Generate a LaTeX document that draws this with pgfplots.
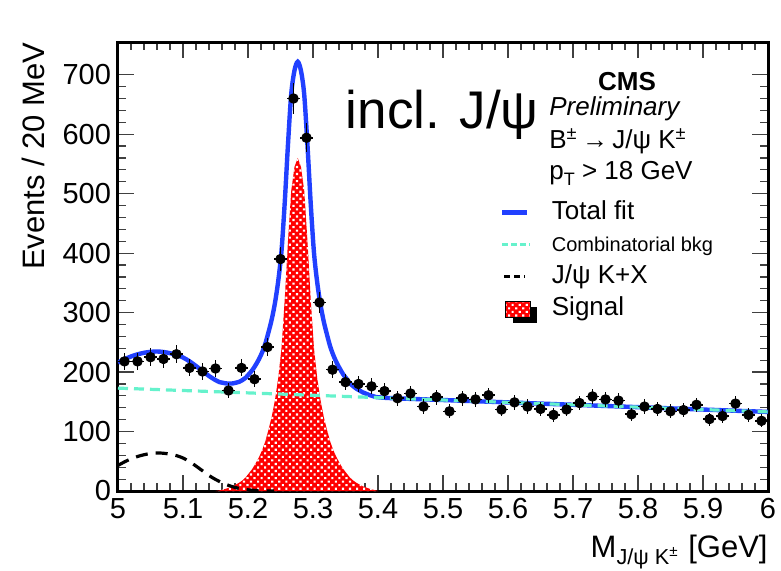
\documentclass[border=0pt]{standalone}
\usepackage{fontspec}
\setmainfont{Liberation Sans}
\usepackage{pgfplots}
\usepackage{pgfplotstable}
\pgfplotsset{compat=1.18}
\usetikzlibrary{patterns.meta}
\definecolor{fitblue}{rgb}{0.13,0.25,1.0}
\definecolor{bkgcyan}{rgb}{0.40,0.95,0.80}
\tikzset{sigfill/.style={fill=red, postaction={pattern={Dots[distance=2.5pt, angle=45, radius=0.75pt]}, pattern color=white}}}

\pgfplotstableread{
x y ex ey
5.01 218 0.01 14.8
5.03 218 0.01 14.8
5.05 225 0.01 15.0
5.07 222 0.01 14.9
5.09 230 0.01 15.2
5.11 207 0.01 14.4
5.13 201 0.01 14.2
5.15 206 0.01 14.4
5.17 169 0.01 13.0
5.19 207 0.01 14.4
5.21 188 0.01 13.7
5.23 242 0.01 15.6
5.25 390 0.01 19.7
5.27 660 0.01 25.7
5.29 594 0.01 24.4
5.31 317 0.01 17.8
5.33 204 0.01 14.3
5.35 183 0.01 13.5
5.37 180 0.01 13.4
5.39 176 0.01 13.3
5.41 168 0.01 13.0
5.43 156 0.01 12.5
5.45 164 0.01 12.8
5.47 142 0.01 11.9
5.49 158 0.01 12.6
5.51 134 0.01 11.6
5.53 156 0.01 12.5
5.55 154 0.01 12.4
5.57 161 0.01 12.7
5.59 137 0.01 11.7
5.61 149 0.01 12.2
5.63 142 0.01 11.9
5.65 138 0.01 11.7
5.67 128 0.01 11.3
5.69 137 0.01 11.7
5.71 148 0.01 12.2
5.73 159 0.01 12.6
5.75 154 0.01 12.4
5.77 152 0.01 12.3
5.79 129 0.01 11.4
5.81 142 0.01 11.9
5.83 138 0.01 11.7
5.85 134 0.01 11.6
5.87 136 0.01 11.7
5.89 145 0.01 12.0
5.91 121 0.01 11.0
5.93 126 0.01 11.2
5.95 147 0.01 12.1
5.97 128 0.01 11.3
5.99 118 0.01 10.9
}\datatable

\begin{document}
\begin{tikzpicture}
\begin{axis}[
  scale only axis, width=325pt, height=224.5pt,
  xmin=5, xmax=6, ymin=0, ymax=755,
  axis line style={line width=1.5pt},
  tick pos=both, tick align=inside,
  xtick={5,5.1,5.2,5.3,5.4,5.5,5.6,5.7,5.8,5.9,6},
  xticklabels={5,5.1,5.2,5.3,5.4,5.5,5.6,5.7,5.8,5.9,6},
  ytick={0,100,200,300,400,500,600,700},
  yticklabels={0,100,200,300,400,500,600,700},
  minor x tick num=4, minor y tick num=4,
  major tick length=8pt, minor tick length=4pt,
  every tick/.style={black!75, line width=0.6pt},
  tick label style={font=\fontsize{14.5}{17}\selectfont},
  label style={font=\fontsize{15.5}{18}\selectfont},
  xlabel={M\textsubscript{J/ψ K\textsuperscript{±}} [GeV]},
  xlabel style={at={(rel axis cs:1,0)}, anchor=base east, yshift=-33pt, inner sep=0pt},
  ylabel={Events / 20 MeV},
  ylabel style={at={(axis description cs:-0.112,1)}, anchor=south east, inner sep=0pt},
  legend style={draw=none, fill=none, at={(rel axis cs:0.578,0.666)}, anchor=north west,
    font=\fontsize{13}{15}\selectfont, row sep=0pt,
    nodes={inner sep=1.5pt, text height=10pt, text depth=3pt}},
  legend cell align=left,
]
\addlegendimage{fitblue, line width=2.2pt, legend image code/.code={\draw (0cm,0cm) -- (0.44cm,0cm); \path (0.78cm,0cm);}}
\addlegendentry{Total fit}
\addlegendimage{bkgcyan, line width=1.6pt, dash pattern=on 3pt off 1.5pt, legend image code/.code={\draw (0cm,0cm) -- (0.48cm,0cm); \path (0.78cm,0cm);}}
\addlegendentry{\fontsize{10}{12}\selectfont Combinatorial bkg}
\addlegendimage{black, line width=1.6pt, dash pattern=on 3pt off 2pt, legend image code/.code={\draw (0.03cm,0cm) -- (0.4cm,0cm); \path (0.78cm,0cm);}}
\addlegendentry{J/ψ K+X}
\addlegendimage{legend image code/.code={
  \fill[black] (0.2cm,-0.24cm) rectangle (0.6cm,0.02cm);
  \fill[sigfill] (0.06cm,-0.16cm) rectangle (0.5cm,0.12cm);
  \path (0.78cm,0cm);}}
\addlegendentry{Signal}

% Signal
\addplot[draw=none, sigfill, forget plot] coordinates {
(5.15,0) (5.1565,1) (5.1615,2.5) (5.1665,4) (5.1715,6) (5.1765,8) (5.1815,11) (5.1865,14) (5.1915,18)
(5.1965,23) (5.2015,30) (5.2065,37) (5.2115,46) (5.2165,56) (5.2215,68) (5.2265,83) (5.2315,103)
(5.2365,125) (5.2415,153) (5.2465,190) (5.2515,240) (5.2565,322) (5.2615,420) (5.2665,505) (5.2715,545)
(5.2765,560)
(5.2815,545) (5.2865,505) (5.2915,420) (5.2965,322) (5.3015,240) (5.3065,190) (5.3115,153) (5.3165,125)
(5.3215,103) (5.3265,83) (5.3315,68) (5.3365,56) (5.3415,46) (5.3465,37) (5.3515,30) (5.3565,23)
(5.3615,18) (5.3665,14) (5.3715,11) (5.3765,8) (5.3815,6) (5.3865,4) (5.3915,2.5) (5.3965,1) (5.40,0)
} \closedcycle;

% J/psi K + X
\addplot[black, line width=1.6pt, dash pattern=on 6pt off 4pt, smooth, forget plot] coordinates {
(5.00,43) (5.01,49) (5.02,54) (5.03,58) (5.04,61) (5.05,63) (5.06,64) (5.07,63.5) (5.08,62) (5.09,59.5)
(5.10,55.5) (5.11,49.5) (5.12,42) (5.13,34) (5.14,26) (5.15,19.5) (5.16,14) (5.17,9.5) (5.18,6)
(5.19,3.5) (5.20,2) (5.21,1) (5.22,0.5) (5.23,0.2) (5.24,0)
};

% Total fit
\addplot[fitblue, line width=2.2pt, smooth, tension=0.5, forget plot] coordinates {
(5.00,216) (5.01,221.6) (5.02,226.2) (5.03,229.8) (5.04,232.4) (5.05,234) (5.06,234.6) (5.07,233.7)
(5.08,231.8) (5.09,228.9) (5.10,224.5) (5.11,218.1) (5.12,210.2) (5.13,201.8) (5.14,193.4) (5.15,186.5)
(5.1565,183.0) (5.1615,181.9) (5.1665,180.9) (5.1715,180.7) (5.1765,180.9) (5.1815,182.1) (5.1865,183.6)
(5.1915,186.6) (5.1965,190.5) (5.2015,196.7) (5.2065,203.0) (5.2115,211.4) (5.2165,220.9) (5.2215,232.5)
(5.2265,247.2) (5.2315,266.9) (5.2365,288.6) (5.2415,316.3) (5.2465,353.1) (5.2515,402.9) (5.2565,484.7)
(5.2615,582.5) (5.2665,667.3) (5.2715,707.1) (5.2765,721.9) (5.2815,706.7) (5.2865,666.5) (5.2915,581.3)
(5.2965,483.1) (5.3015,400.9) (5.3065,350.7) (5.3115,313.5) (5.3165,285.3) (5.3215,263.1) (5.3265,242.9)
(5.3315,227.7) (5.3365,215.5) (5.3415,205.3) (5.3465,196.1) (5.3515,188.9) (5.3565,181.7) (5.3615,176.5)
(5.3665,172.3) (5.3715,169.1) (5.3765,165.9) (5.3815,163.7) (5.3865,161.5) (5.3915,159.8) (5.3965,158.1)
(5.42,156.2) (5.5,153) (5.6,149) (5.7,145) (5.8,141) (5.9,137) (6.0,133)
};

% Combinatorial background
\addplot[bkgcyan, line width=1.6pt, dash pattern=on 5pt off 3pt, forget plot] coordinates {
(5.0,173) (5.5,153) (6.0,133)
};

% Data
\addplot[only marks, mark=*, mark size=2.4pt, black, forget plot,
  error bars/.cd, x dir=both, x explicit, y dir=both, y explicit, error mark=none,
  error bar style={line width=0.8pt, black}]
  table[x=x, y=y, x error=ex, y error=ey] {\datatable};

% Texts
\node[anchor=base west, inner sep=0pt, font=\fontsize{26.5}{30}\selectfont] at (rel axis cs:0.350,0.808) {incl. J/ψ};
\node[anchor=base, inner sep=0pt, font=\bfseries\fontsize{13}{15}\selectfont] at (rel axis cs:0.783,0.893) {CMS};
\node[anchor=base west, inner sep=0pt, font=\itshape\fontsize{13}{15}\selectfont] at (rel axis cs:0.663,0.837) {Preliminary};
\node[anchor=base west, inner sep=0pt, font=\fontsize{13}{15}\selectfont] at (rel axis cs:0.663,0.763) {B\textsuperscript{±}\,→\,J/ψ K\textsuperscript{±}};
\node[anchor=base west, inner sep=0pt, font=\fontsize{13}{15}\selectfont] at (rel axis cs:0.663,0.694) {p\raisebox{-0.45ex}{\fontsize{9}{10}\selectfont T} > 18 GeV};
\node[anchor=base east, inner sep=0pt, font=\fontsize{14}{16}\selectfont, yshift=7pt] at (rel axis cs:1,1) {38 pb\textsuperscript{-1}(13 TeV)};
\end{axis}
\pgfresetboundingbox
\path (-59pt,-39.5pt) rectangle (331.5pt,245.5pt);
\end{tikzpicture}
\end{document}
